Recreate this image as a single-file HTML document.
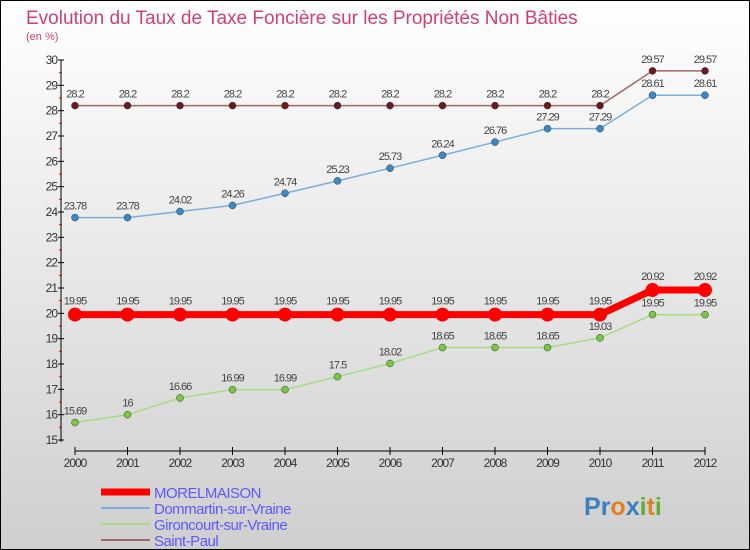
<!DOCTYPE html>
<html><head><meta charset="utf-8"><style>
body{margin:0}
#c{width:750px;height:550px;position:relative;box-sizing:border-box;border:1px solid #000;background:linear-gradient(#fff,#cfcfcf);font-family:"Liberation Sans",sans-serif;overflow:hidden}
</style></head><body>
<div id="c">
<svg id="s" width="750" height="550" style="position:absolute;left:-1px;top:-1px">
<text x="26" y="24" font-size="19" fill="#d04070">Evolution du Taux de Taxe Foncière sur les Propriétés Non Bâties</text>
<text x="26" y="40" font-size="11" fill="#d04070">(en %)</text>
</svg>
</div>
<script>
const years=["2000","2001","2002","2003","2004","2005","2006","2007","2008","2009","2010","2011","2012"];
const yTicks=[15,16,17,18,19,20,21,22,23,24,25,26,27,28,29,30];
const morel=[19.95,19.95,19.95,19.95,19.95,19.95,19.95,19.95,19.95,19.95,19.95,20.92,20.92];
const dommartin=[23.78,23.78,24.02,24.26,24.74,25.23,25.73,26.24,26.76,27.29,27.29,28.61,28.61];
const gironcourt=[15.69,16,16.66,16.99,16.99,17.5,18.02,18.65,18.65,18.65,19.03,19.95,19.95];
const saintPaul=[28.2,28.2,28.2,28.2,28.2,28.2,28.2,28.2,28.2,28.2,28.2,29.57,29.57];
const names=["MORELMAISON","Dommartin-sur-Vraine","Gironcourt-sur-Vraine","Saint-Paul"];
const NS="http://www.w3.org/2000/svg";const s=document.getElementById('s');
const X=i=>75+i*52.5, Y=v=>60+(30-v)*(380/15);
function el(t,a,txt){const e=document.createElementNS(NS,t);for(const k in a)e.setAttribute(k,a[k]);if(txt!==undefined)e.textContent=txt;s.appendChild(e);return e;}
let e;
e=el('line',{x1:61,y1:60,x2:61,y2:442,stroke:'#000'});


yTicks.forEach(v=>{
 el('line',{x1:58,x2:64,y1:Y(v),y2:Y(v),stroke:'#000'});
 el('line',{x1:59,x2:62,y1:Y(v+0.5),y2:Y(v+0.5),stroke:v<30?'#e00':'none'});
 e=el('text',{x:57,y:Y(v)+4,'font-size':12,'text-anchor':'end',fill:'#333','letter-spacing':'-1'},String(v));
 
 
});
e=el('line',{x1:75,y1:451,x2:705,y2:451,stroke:'#000'});


years.forEach((y,i)=>{
 el('line',{x1:X(i),x2:X(i),y1:447,y2:455,stroke:'#000'});
 e=el('text',{x:X(i),y:467,'font-size':12,'text-anchor':'middle',fill:'#333','letter-spacing':'-1'},y);
 
 
});
function series(d,color,dot,w,r,name){
 e=el('polyline',{points:d.map((v,i)=>X(i)+','+Y(v)).join(' '),fill:'none',stroke:color,'stroke-width':w});
 
 
 d.forEach((v,i)=>{
  e=el('circle',{cx:X(i),cy:Y(v),r:r,fill:dot,stroke:'#333','stroke-width':r>5?0:0.5});
  
  
  e=el('text',{x:X(i),y:Y(v)-(r>5?10:8),'font-size':11,'text-anchor':'middle',fill:'#444','letter-spacing':'-1'},String(v));
  
  
 });
}
series(saintPaul,'#a06868','#6a1a1a',1.5,3.5,'saint-paul');
series(dommartin,'#7aaedc','#3a88c8',1.5,3.5,'dommartin');
series(gironcourt,'#a8dc80','#78c840',1.5,3.5,'gironcourt');
series(morel,'#f00','#f00',7,7,'morelmaison');
const lc=['#f00','#7aaedc','#a8dc80','#a06868'],lw=[7,2,2,2];
names.forEach((n,i)=>{
 const y=492+i*16;
 el('line',{x1:101,x2:150,y1:y,y2:y,stroke:lc[i],'stroke-width':lw[i]});
 e=el('text',{x:154,y:y+6,'font-size':15,fill:'#5a5aff','letter-spacing':'-0.5'},n);
 
 
});
e=el('text',{x:584,y:515,'font-size':25,'font-weight':'bold'},'');


[['P','#3a80c0'],['r','#3a80c0'],['o','#e08020'],['x','#3a80c0'],['i','#60b030'],['t','#e08020'],['i','#60b030']].forEach(([c,f])=>{const t=document.createElementNS(NS,'tspan');t.setAttribute('fill',f);t.textContent=c;e.appendChild(t);});
</script>
</body></html>
